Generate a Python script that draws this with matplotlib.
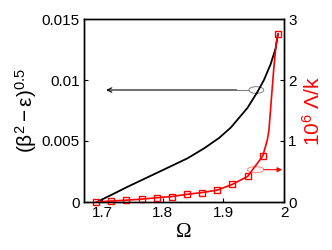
import matplotlib
matplotlib.use('Agg')
import matplotlib.pyplot as plt
from matplotlib.patches import Ellipse

plt.rcParams['font.family'] = ['Liberation Sans', 'DejaVu Sans']
plt.rcParams['mathtext.fontset'] = 'custom'
plt.rcParams['mathtext.rm'] = 'Liberation Sans'
plt.rcParams['mathtext.it'] = 'Liberation Sans'

# black curve, left axis: (beta^2 - eps)^0.5 vs Omega
omega_b = [1.6913, 1.7147, 1.742, 1.7942, 1.8407, 1.8682, 1.8929, 1.9122,
           1.9395, 1.9559, 1.9669, 1.978, 1.9862, 1.99]
root_b = [0.0, 0.00057, 0.00125, 0.00248, 0.00358, 0.0044, 0.00525, 0.0061,
          0.0077, 0.0090, 0.0100, 0.0113, 0.0126, 0.01377]

# red squares, right axis: 10^6 Lambda/k
omega_r = [1.69, 1.715, 1.74, 1.765, 1.79, 1.815, 1.84, 1.865, 1.89,
           1.915, 1.94, 1.965, 1.99]
lam_r = [0.0, 0.016, 0.03, 0.047, 0.07, 0.09, 0.126, 0.155, 0.195,
         0.29, 0.42, 0.754, 2.754]
# extra points of the red line on its steep part
omega_r_extra = [1.9724, 1.9752, 1.979, 1.9834, 1.9872]
lam_r_extra = [1.016, 1.18, 1.67, 2.22, 2.60]

fig = plt.figure(figsize=(3.32, 2.5), dpi=100)
ax = fig.add_axes([84 / 332, 48 / 250, 200 / 332, 183 / 250])
ax2 = ax.twinx()

ax.plot(omega_b, root_b, color='black', lw=1.3)

line_pts = sorted(zip(omega_r + omega_r_extra, lam_r + lam_r_extra))
ax2.plot([p[0] for p in line_pts], [p[1] for p in line_pts], color='red', lw=1.2)
ax2.plot(omega_r, lam_r, ls='none', marker='s', ms=5, mfc='none', mec='red',
         mew=1.0, clip_on=False)

ax.set_xlim(1.67, 2.0)
ax.set_ylim(0, 0.015)
ax2.set_ylim(0, 3)
ax.set_xticks([1.7, 1.8, 1.9, 2.0])
ax.set_xticklabels(['1.7', '1.8', '1.9', '2'])
ax.set_yticks([0, 0.005, 0.01, 0.015])
ax.set_yticklabels(['0', '0.005', '0.01', '0.015'])
ax2.set_yticks([0, 1, 2, 3])

for a in (ax, ax2):
    a.tick_params(direction='in', length=3, width=0.8, labelsize=11, pad=3)
    for s in a.spines.values():
        s.set_linewidth(1.0)

ax.set_xlabel('Ω', fontsize=15, family='Liberation Serif', labelpad=2)
ax.set_ylabel(r'$\mathrm{(β^{2}-ε)^{0.5}}$', fontsize=15, labelpad=2)
ax2.set_ylabel(r'$\mathrm{10^{6}\ Λ/k}$', fontsize=15, color='red', labelpad=4)

# black marker ellipse and arrow to the left axis
ax.add_patch(Ellipse((1.9543, 0.00918), 0.0247, 0.00055, fill=False,
                     ec='gray', lw=0.7))
ax.plot([1.922, 1.942], [0.00918, 0.00918], color='gray', lw=0.8)
ax.annotate('', xy=(1.7065, 0.00918), xytext=(1.922, 0.00918),
            arrowprops=dict(arrowstyle='->', color='black', lw=0.8,
                            shrinkA=0, shrinkB=0, mutation_scale=8))

# red marker ellipse and arrow to the right axis
ax2.add_patch(Ellipse((1.9531, 0.53), 0.0275, 0.098, fill=False,
                      ec='#ff8080', lw=0.7))
ax2.annotate('', xy=(1.997, 0.53), xytext=(1.9668, 0.53),
             arrowprops=dict(arrowstyle='-|>', color='red', lw=0.8,
                             shrinkA=0, shrinkB=0, mutation_scale=7))

fig.savefig('out.png', dpi=100)
